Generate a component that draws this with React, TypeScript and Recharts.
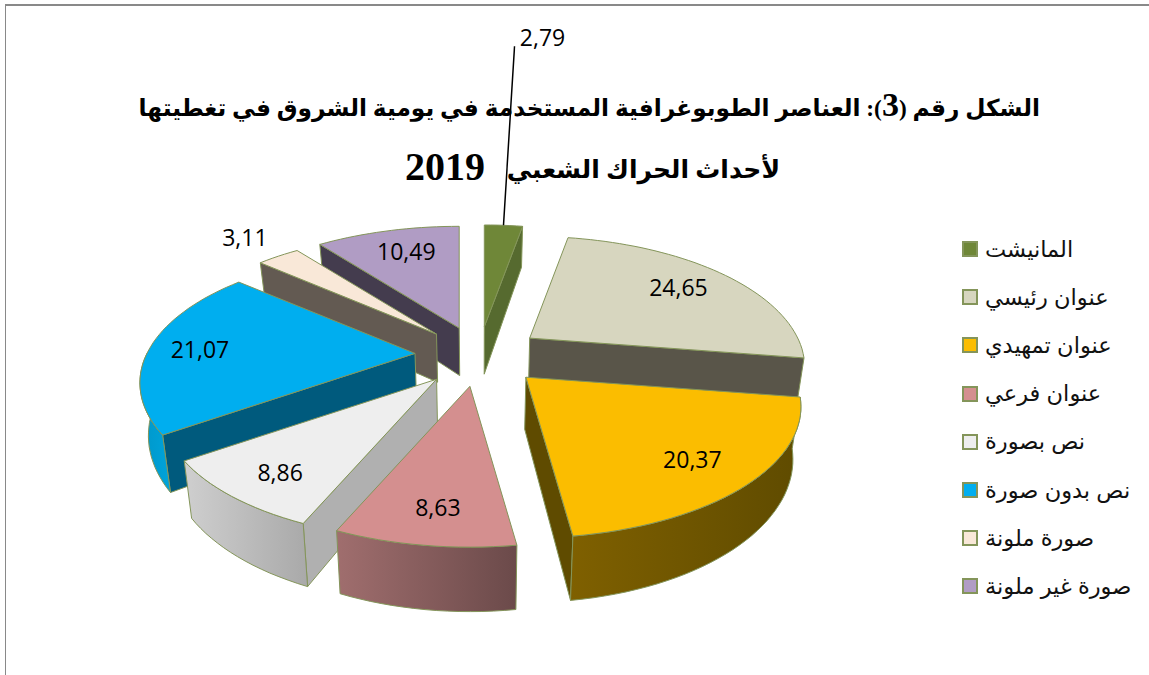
import { PieChart, Pie, Legend } from 'recharts';

const categories = [
  'المانيشت',
  'عنوان رئيسي',
  'عنوان تمهيدي',
  'عنوان فرعي',
  'نص بصورة',
  'نص بدون صورة',
  'صورة ملونة',
  'صورة غير ملونة',
];
const shares = [2.79, 24.65, 20.37, 8.63, 8.86, 21.07, 3.11, 10.49];

const topColors = ['#6f8738', '#d7d6bf', '#fbbd00', '#d48f8f', '#eeeeee', '#00aeef', '#f9e8d8', '#b09cc4'];
const wallColors = ['#566a2f', '#595549', '#5f4b00', '#6d4a4a', '#b0b0b0', '#005a7d', '#635a52', '#443c4e'];
const rimStart = ['#566a2f', '#595549', '#7f6000', '#a06e6e', '#cfcfcf', '#0097c9', '#635a52', '#443c4e'];
const rimEnd = ['#566a2f', '#595549', '#5f4b00', '#6b4a4a', '#a9a9a9', '#00a3da', '#635a52', '#443c4e'];
// back slices first, so nearer ones cover them
const drawOrder = [7, 6, 0, 1, 5, 4, 2, 3];
const labelRadius = [0.75, 0.7, 0.78, 0.8, 0.8, 0.8, 1.2, 0.7];
// hand tuning of the value labels after the projection
const labelNudge = [[0, 1], [9, -2], [-1, 5], [3, 3], [1, 6], [-3, 4], [-7, -3], [0, -2]];

const chartData = categories.map((name, i) => ({ name, value: shares[i] }));

const EDGE = '#84955a';
const TILT = 0.465; // minor axis / major axis
const PERSPECTIVE = 0.225;
const EXPLODE = 0.24;
const DEPTH = 50;
const TAPER = 0.025;
const LABEL_FONT = 'Open Sans';
const LABEL_SIZE = 23;

type Pt = { x: number; y: number; scale: number };

// clockwise degrees from the top, projected onto the tilted plane
function project(theta: number, r: number, R: number): Pt {
  const a = (theta * Math.PI) / 180;
  const d = 1 + PERSPECTIVE * r * Math.cos(a);
  return {
    x: (R * r * Math.sin(a)) / d,
    y: (-R * TILT * r * Math.cos(a)) / d,
    scale: 1 / d,
  };
}

const toPath = (pts: number[][]) =>
  pts.map((p, i) => `${i ? 'L' : 'M'}${p[0].toFixed(1)} ${p[1].toFixed(1)}`).join(' ') + ' Z';

function Wedge(props: any) {
  const { cx, cy, outerRadius: R, startAngle, endAngle, index, value } = props;
  const t1 = 90 - startAngle;
  const t2 = 90 - endAngle;
  const mid = (t1 + t2) / 2;
  const off = project(mid, EXPLODE, R);

  const top = (theta: number, r: number) => {
    const p = project(theta, r, R);
    return [cx + off.x + p.x, cy + off.y + p.y];
  };
  const bottom = (q: number[], scale: number) => [q[0] - (q[0] - cx) * TAPER, q[1] + DEPTH * scale];
  const rimBottom = (theta: number) => bottom(top(theta, 1), project(theta, 1, R).scale);

  const apex = [cx + off.x, cy + off.y];
  const apexLow = bottom(apex, off.scale);
  const p1 = top(t1, 1);
  const p2 = top(t2, 1);

  const arc: number[][] = [];
  const steps = Math.max(2, Math.ceil((t2 - t1) / 2));
  for (let i = 0; i <= steps; i++) arc.push(top(t1 + ((t2 - t1) * i) / steps, 1));

  const rimFrom = Math.max(t1, 90);
  const rimTo = Math.min(t2, 270);
  const rimTop: number[][] = [];
  const rimLow: number[][] = [];
  // a sliver of rim behind the end wall is not worth drawing
  if (rimTo - rimFrom > 15) {
    const n = Math.ceil((rimTo - rimFrom) / 2);
    for (let i = 0; i <= n; i++) {
      const th = rimFrom + ((rimTo - rimFrom) * i) / n;
      rimTop.push(top(th, 1));
      rimLow.unshift(rimBottom(th));
    }
  }

  const labelOff = project(mid, labelRadius[index], R);
  const text = value.toFixed(2).replace('.', ',');
  const isLeader = index === 0;
  const edgeMid = top(mid, 1);
  const [nx, ny] = labelNudge[index];

  return (
    <g>
      {p1[0] < apex[0] && (
        <path d={toPath([apex, p1, rimBottom(t1), apexLow])} fill={wallColors[index]} stroke={EDGE} />
      )}
      {apex[0] < p2[0] && (
        <path d={toPath([apex, p2, rimBottom(t2), apexLow])} fill={wallColors[index]} stroke={EDGE} />
      )}
      {rimTop.length > 0 && (
        <path d={toPath([...rimTop, ...rimLow])} fill={`url(#rim${index})`} stroke={EDGE} />
      )}
      <path d={toPath([apex, ...arc])} fill={topColors[index]} stroke={EDGE} />
      {isLeader ? (
        <>
          <line x1={edgeMid[0]} y1={edgeMid[1]} x2={edgeMid[0] + 11} y2={edgeMid[1] - 179} stroke="#000" strokeWidth={1.5} />
          <text x={edgeMid[0] + 39} y={edgeMid[1] - 186 + ny} textAnchor="middle" dominantBaseline="middle" fontFamily={LABEL_FONT} fontSize={LABEL_SIZE} fill="#000">
            {text}
          </text>
        </>
      ) : (
        <text x={apex[0] + labelOff.x + nx} y={apex[1] + labelOff.y + ny} textAnchor="middle" dominantBaseline="middle" fontFamily={LABEL_FONT} fontSize={LABEL_SIZE} fill="#000">
          {text}
        </text>
      )}
    </g>
  );
}

function LegendList() {
  return (
    <div>
      {categories.map((name, i) => (
        <div key={name} style={{ height: 48.2, display: 'flex', alignItems: 'center' }}>
          <span style={{ width: 12, height: 12, background: topColors[i], border: `2px solid ${EDGE}`, marginRight: 7, flex: 'none' }} />
          <span dir="rtl" style={{ fontFamily: 'Liberation Sans, DejaVu Sans', fontSize: 22.5, color: '#111', whiteSpace: 'nowrap' }}>
            {name}
          </span>
        </div>
      ))}
    </div>
  );
}

export default function App() {
  return (
    <div
      style={{
        position: 'absolute',
        left: 0,
        top: 0,
        width: 1149,
        height: 675,
        overflow: 'hidden',
        background: '#fff',
      }}
    >
      <div style={{ position: 'absolute', left: 5, top: 4, right: 0, bottom: 0, borderTop: '2px solid #898989', borderLeft: '1px solid #898989' }} />
      <PieChart width={1149} height={675} margin={{ top: 0, right: 0, bottom: 0, left: 0 }}>
        <defs>
          {categories.map((_, i) => (
            <linearGradient key={i} id={`rim${i}`} x1="0" y1="0" x2="1" y2="0">
              <stop offset="0%" stopColor={rimStart[i]} />
              <stop offset="100%" stopColor={rimEnd[i]} />
            </linearGradient>
          ))}
        </defs>
        <text x={1040} y={116} direction="rtl" textAnchor="start" fontFamily="Liberation Serif, DejaVu Sans" fontWeight="bold" fontSize={23.3} fill="#000">
          الشكل رقم (<tspan fontSize={34}>3</tspan>): العناصر الطوبوغرافية المستخدمة في يومية الشروق في تغطيتها
        </text>
        <text x={780} y={178} direction="rtl" textAnchor="start" fontFamily="Liberation Serif, DejaVu Sans" fontWeight="bold" fontSize={25} fill="#000">
          لأحداث الحراك الشعبي
        </text>
        <text x={405} y={180} fontFamily="Liberation Serif" fontWeight="bold" fontSize={40} fill="#000">
          2019
        </text>
        {drawOrder.map((k, layer) => (
          <Pie
            key={k}
            data={chartData}
            dataKey="value"
            nameKey="name"
            cx={479}
            cy={355}
            outerRadius={268}
            startAngle={90}
            endAngle={-270}
            isAnimationActive={false}
            legendType={layer === 0 ? 'square' : 'none'}
            shape={(props: any) => (props.index === k ? <Wedge {...props} /> : <g />)}
          />
        ))}
        <Legend
          layout="vertical"
          content={() => <LegendList />}
          wrapperStyle={{ position: 'absolute', left: 962, top: 225, width: 187, bottom: 'auto', right: 'auto' }}
        />
      </PieChart>
    </div>
  );
}
